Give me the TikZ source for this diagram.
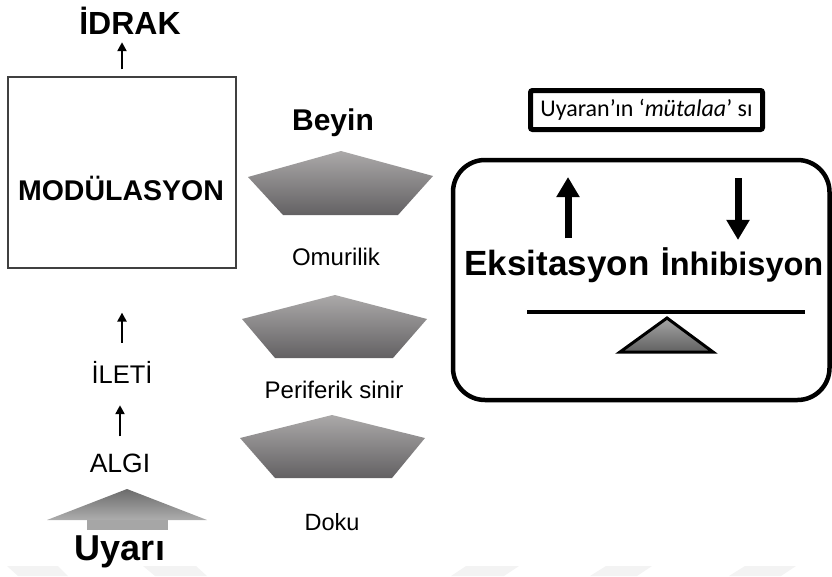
\documentclass[tikz,border=0pt]{standalone}
\usepackage{fontspec}
\setmainfont{Liberation Sans}
\newfontfamily\calib{Carlito}
\usetikzlibrary{arrows.meta}
\definecolor{penttop}{HTML}{ABA9A9}
\definecolor{pentbot}{HTML}{636163}
\definecolor{wm}{HTML}{F3F3F3}
\begin{document}
\begin{tikzpicture}[x=1pt,y=-1pt,
  lbl/.style={inner sep=0pt, anchor=base},
  bold/.style={lbl, font=\bfseries\fontsize{#1}{#1}\selectfont},
  reg/.style={lbl, font=\fontsize{#1}{#1}\selectfont},
  sarr/.style={line width=2.6pt, -{Triangle[length=9pt,width=9pt]}},
  bigarr/.style={line width=7pt, -{Triangle[length=20pt,width=22pt]}},
  pent/.style={top color=penttop, bottom color=pentbot, draw=none}]
\useasboundingbox (0,0) rectangle (832,576);

% faint watermark
\fill[wm] (7,566) -- (58,566) -- (68,576) -- (18,576) -- cycle;
\fill[wm] (143,566) -- (196,566) -- (207,576) -- (155,576) -- cycle;
\fill[wm] (466,566) -- (519,566) -- (504,576) -- (451,576) -- cycle;
\fill[wm] (606,566) -- (652,566) -- (637,576) -- (590,576) -- cycle;
\fill[wm] (745,566) -- (796,566) -- (781,576) -- (729,576) -- cycle;

% left column
\node[bold=32] (idrak) at (130,34) {İDRAK};
\node[draw=black!75, line width=1.2pt, minimum width=228pt, minimum height=191pt, inner sep=0pt] (modbox) at (122,172.5) {};
\node[bold=28.5] (mod) at (121,200) {MODÜLASYON};
\node[reg=25.5] (ileti) at (122,383) {İLETİ};
\node[reg=26.5] (algi) at (120,472) {ALGI};
\node[bold=36] (uyari) at (120,560) {Uyarı};

\draw[sarr, shorten <=7pt, shorten >=8pt] (modbox.north) -- (modbox.north |- idrak.south);
\draw[sarr, shorten <=18pt, shorten >=44pt] (ileti.north) -- (ileti.north |- modbox.south);
\draw[sarr, shorten <=17pt, shorten >=22pt] (algi.north) -- (algi.north |- ileti.south);

% big gray arrow (Uyarı)
\fill[gray!70] (87,519) rectangle (168,530);
\shade[top color=black!58, bottom color=black!32] (127,489) -- (207,520) -- (47,520) -- cycle;

% middle column
\node[bold=30] (beyin) at (333,130) {Beyin};
\shade[pent] (341,151) -- (433,176) -- (398,215) -- (283,215) -- (248,177) -- cycle;
\node[reg=24] (omur) at (336,265) {Omurilik};
\shade[pent] (335,295) -- (427,319) -- (393,358) -- (275,358) -- (242,319) -- cycle;
\node[reg=24] (perif) at (334,398) {Periferik sinir};
\shade[pent] (332,415) -- (425,438) -- (392,478) -- (275,478) -- (240,438) -- cycle;
\node[reg=23.5] (doku) at (332,530) {Doku};

% right panel
\node[draw, line width=5pt, rounded corners=2pt, minimum width=232pt, minimum height=39pt, inner sep=0pt,
      font=\calib\fontsize{24}{24}\selectfont] (mut) at (646.5,110) {Uyaran’ın ‘\textit{mütalaa}’ sı};
\draw[line width=4.5pt, rounded corners=32pt] (453,160) rectangle (829.5,400);
\node[bold=35] (eks) at (557,275) {Eksitasyon};
\node[bold=32.5] (inh) at (742,275) {İnhibisyon};
\coordinate (eup) at (568,177);
\coordinate (itop) at (738,178);
\draw[bigarr, shorten <=11pt] (eks.north -| eup) -- (eup);
\draw[bigarr, shorten >=7pt] (itop) -- (itop |- inh.north);
\coordinate (lvL) at (527,312);
\coordinate (lvR) at (805,312);
\draw[line width=4pt] (lvL) -- (lvR);
\shade[top color=black!35, bottom color=black!62] (667,318) -- (713,352) -- (620,352) -- cycle;
\draw[line width=3pt, line join=miter] (667,318) -- (713,352) -- (620,352) -- cycle;
\end{tikzpicture}
\end{document}
